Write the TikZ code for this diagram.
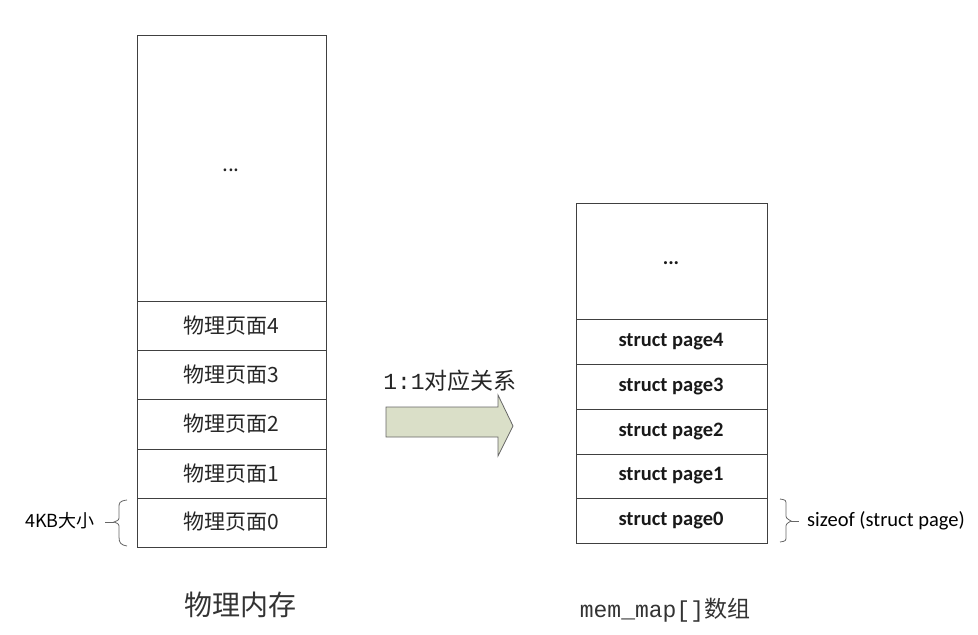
\documentclass[tikz,border=0pt]{standalone}
\usepackage{fontspec}
\setmainfont{Carlito}
\newfontfamily\cjk{Noto Sans CJK SC}
\newfontfamily\mono{Liberation Mono}
\begin{document}
\begin{tikzpicture}[x=1pt,y=-1pt,
  cell/.style={draw=black!75,line width=0.8pt,minimum width=#1,inner sep=0},
  lt/.style={font=\cjk\fontsize{21}{21}\selectfont,text=black!85},
  rt/.style={font=\bfseries\fontsize{20.5}{20.5}\selectfont,text=black!90},
  brace/.style={draw=black!60,line width=0.8pt}]
\useasboundingbox (0,0) rectangle (978,635);
% left column
\draw[cell=0] (137,35) rectangle (326,547);
\foreach \y in {301,350,399,449,498} \draw[black!75,line width=0.8pt] (137,\y) -- (326,\y);
\node[lt] (ld) at (231,170) {...};
\node[lt] (l4) at (231,326) {物理页面4};
\node[lt] (l3) at (231,375) {物理页面3};
\node[lt] (l2) at (231,424) {物理页面2};
\node[lt] (l1) at (231,474) {物理页面1};
\node[lt] (l0) at (231,522) {物理页面0};
% right column
\draw[cell=0] (576,203) rectangle (767,543);
\foreach \y in {319,364,409,454,498} \draw[black!75,line width=0.8pt] (576,\y) -- (767,\y);
\node[rt] (rd) at (671,263) {...};
\node[rt] (r4) at (671,342) {struct page4};
\node[rt] (r3) at (671,387) {struct page3};
\node[rt] (r2) at (671,432) {struct page2};
\node[rt] (r1) at (671,476) {struct page1};
\node[rt] (r0) at (671,521) {struct page0};
% arrow
\draw[draw=black!60,fill={rgb,255:red,218;green,223;blue,200},line width=0.8pt]
  (386,407) -- (498,407) -- (498,395) -- (513,426) -- (498,456) -- (498,437) -- (386,437) -- cycle;
\node[font=\fontsize{23}{23}\selectfont,text=black!85] (lab) at (450,381) {{\mono 1:1}{\cjk 对应关系}};
% left brace
\draw[brace] (127,500) .. controls (119,501) and (119,503) .. (119,508) -- (119,516) .. controls (119,520) .. (114,522)
  .. controls (119,524) .. (119,528) -- (119,537) .. controls (119,543) and (121,545) .. (127,546);
\draw[brace] (105,522) -- (114,522);
\node[font=\cjk\fontsize{18}{18}\selectfont,anchor=east] (kb) at (98,521) {4KB大小};
% right brace
\draw[brace] (780,499) .. controls (786,500) .. (786,505) -- (786,514) .. controls (786,518) .. (791,521)
  .. controls (786,524) .. (786,528) -- (786,536) .. controls (786,541) .. (780,542);
\draw[brace] (791,521) -- (799,521);
\node[font=\fontsize{20.5}{20.5}\selectfont,anchor=west,inner sep=1pt] (sz) at (806,521) {sizeof (struct page)};
% bottom labels
\node[font=\cjk\fontsize{28}{28}\selectfont,text=black!80] (b1) at (240,605) {物理内存};
\node[font=\fontsize{23}{23}\selectfont,text=black!80] (b2) at (665,610) {{\mono mem\_map[]}{\cjk 数组}};
\end{tikzpicture}
\end{document}
